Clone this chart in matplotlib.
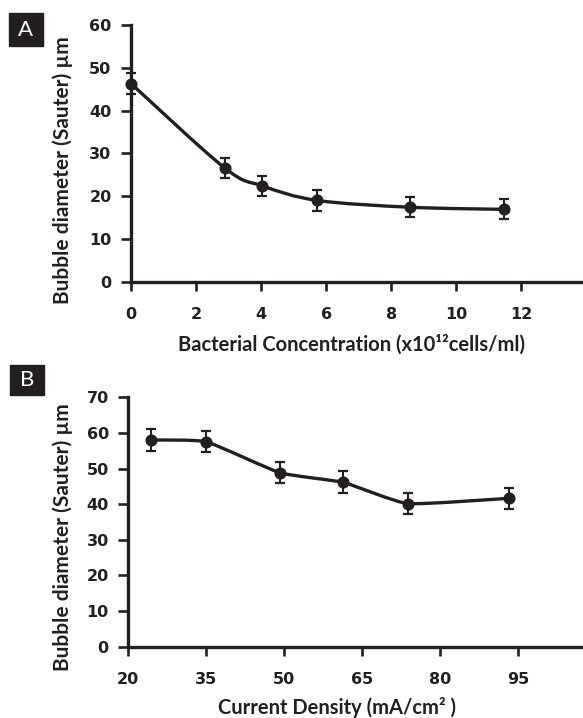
import numpy as np
import matplotlib
matplotlib.use("Agg")
import matplotlib.pyplot as plt
from matplotlib.path import Path
from matplotlib.patches import PathPatch, Rectangle

plt.rcParams['font.family'] = ['Lato', 'DejaVu Sans']

INK = '#231f20'

# Panel A: bubble size vs bacterial concentration
conc = [0, 2.88, 4.04, 5.72, 8.59, 11.48]
diam_a = [46.3, 26.6, 22.4, 19.0, 17.4, 16.9]
err_a = [2.4, 2.35, 2.35, 2.45, 2.35, 2.35]

# Panel B: bubble size vs current density
cur = [24.4, 35.0, 49.2, 61.4, 73.8, 93.35]
diam_b = [58.0, 57.5, 48.8, 46.1, 40.15, 41.65]
err_b = [3.0, 2.9, 3.0, 3.1, 2.95, 2.95]


def smooth_path(xs, ys, tension=1.0):
    # Catmull-Rom curve through the points, as cubic Bezier segments
    pts = np.column_stack([xs, ys]).astype(float)
    n = len(pts)
    k = tension / 6
    verts = [pts[0]]
    codes = [Path.MOVETO]
    for i in range(n - 1):
        p0 = pts[i - 1] if i > 0 else pts[i]
        p1, p2 = pts[i], pts[i + 1]
        p3 = pts[i + 2] if i + 2 < n else pts[i + 1]
        verts += [p1 + (p2 - p0) * k, p2 - (p3 - p1) * k, p2]
        codes += [Path.CURVE4] * 3
    return Path(verts, codes)


def style_axes(ax):
    for s in ['top', 'right']:
        ax.spines[s].set_visible(False)
    for s in ['left', 'bottom']:
        ax.spines[s].set_linewidth(2.4)
        ax.spines[s].set_color(INK)
    ax.tick_params(axis='y', direction='out', length=7.5, width=1.9, color=INK,
                   pad=6.5, labelcolor=INK)
    ax.tick_params(axis='x', direction='out', length=6.5, width=1.9, color=INK,
                   pad=12, labelcolor=INK)
    for lab in ax.get_xticklabels() + ax.get_yticklabels():
        lab.set_fontfamily('DejaVu Sans')
        lab.set_fontweight('bold')
        lab.set_fontsize(11.5)


def draw(ax, x, y, e, tension):
    ax.add_patch(PathPatch(smooth_path(x, y, tension), fill=False, lw=2.4, ec=INK,
                           capstyle='round', joinstyle='round', zorder=2))
    ax.errorbar(x, y, yerr=e, fmt='o', ms=7.7, color=INK, capsize=3.6,
                elinewidth=1.5, capthick=1.6, zorder=3, clip_on=False)


def panel_tag(fig, x0, y0, x1, y1, letter):
    W, H = 583, 718
    fig.patches.append(Rectangle((x0 / W, 1 - y1 / H), (x1 - x0) / W, (y1 - y0) / H,
                                 transform=fig.transFigure, color=INK))
    fig.text((x0 + x1) / 2 / W, 1 - (y0 + y1) / 2 / H, letter, color='white',
             ha='center', va='center', fontsize=16)


fig = plt.figure(figsize=(5.83, 7.18), dpi=100)

ax1 = fig.add_axes([0.2247, 0.6077, 0.7753, 0.3575])
draw(ax1, conc, diam_a, err_a, 1.0)
ax1.set_xlim(0, 13.9)
ax1.set_ylim(0, 60)
ax1.set_xticks(range(0, 13, 2))
ax1.set_yticks(range(0, 61, 10))
style_axes(ax1)
ax1.set_ylabel('Bubble diameter (Sauter) µm', fontsize=15, fontweight='bold',
               color=INK, va='center', ha='center')
ax1.yaxis.set_label_coords(-0.150, 0.435)
ax1.set_xlabel('Bacterial Concentration (x10¹²cells/ml)', fontsize=14.5,
               fontweight='bold', color=INK, va='center', ha='center')
ax1.xaxis.set_label_coords(0.487, -0.244)

ax2 = fig.add_axes([0.2201, 0.0994, 0.7799, 0.3473])
draw(ax2, cur, diam_b, err_b, 0.45)
ax2.set_xlim(20, 107.5)
ax2.set_ylim(0, 70)
ax2.set_xticks(range(20, 96, 15))
ax2.set_yticks(range(0, 71, 10))
style_axes(ax2)
ax2.set_ylabel('Bubble diameter (Sauter) µm', fontsize=15, fontweight='bold',
               color=INK, va='center', ha='center')
ax2.yaxis.set_label_coords(-0.1436, 0.441)
ax2.set_xlabel('Current Density (mA/cm² )', fontsize=14.5, fontweight='bold',
               color=INK, va='center', ha='center')
ax2.xaxis.set_label_coords(0.458, -0.246)

panel_tag(fig, 9, 13, 43, 46, 'A')
panel_tag(fig, 10, 365, 44, 395, 'B')

fig.savefig('out.png', dpi=100)
